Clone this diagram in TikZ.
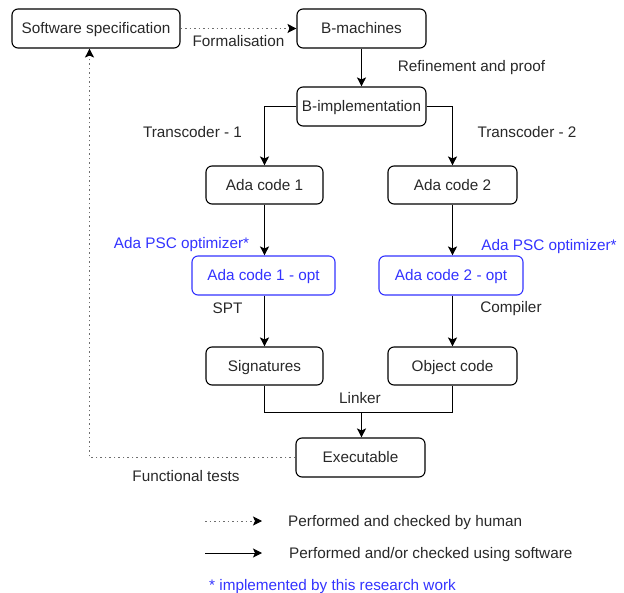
\documentclass[tikz,border=0pt]{standalone}
\usepackage{fontspec}
\setmainfont{Liberation Sans}
\usetikzlibrary{arrows.meta}
\definecolor{lblue}{RGB}{51,51,255}
\definecolor{tgray}{RGB}{40,40,40}
\definecolor{dgray}{RGB}{110,110,110}
\tikzset{
  box/.style={draw=black, line width=1.1pt, rounded corners=6pt, inner sep=0pt, text=tgray, text height=11pt, text depth=0pt},
  bluebox/.style={box, draw=lblue, text=lblue},
  lbl/.style={inner sep=0pt, text=tgray, text height=11pt, text depth=0pt},
  bluelbl/.style={lbl, text=lblue},
  solidarr/.style={line width=1pt, -{Stealth[length=9pt,width=9pt,inset=2pt]}},
  dotarr/.style={draw=dgray, line width=0.9pt, dash pattern=on 1.5pt off 3pt, -{Stealth[length=9pt,width=9pt,inset=2pt,color=black]}},
  plainline/.style={line width=1pt},
}
\begin{document}
\begin{tikzpicture}[x=1pt,y=-1pt, font=\fontsize{15.3}{18}\selectfont]
\useasboundingbox (0,0) rectangle (624,593);
% boxes
\node[box, minimum width=168pt, minimum height=39pt] (spec) at (96,28.5) {Software specification};
\node[box, minimum width=129pt, minimum height=39pt] (bm) at (361.5,28.5) {B-machines};
\node[box, minimum width=129pt, minimum height=39pt] (bi) at (361.5,106.5) {B-implementation};
\node[box, minimum width=117pt, minimum height=38pt] (ada1) at (264.5,185) {Ada code 1};
\node[box, minimum width=129pt, minimum height=38pt] (ada2) at (452.5,185) {Ada code 2};
\node[bluebox, minimum width=143pt, minimum height=39pt] (opt1) at (263.5,275.5) {Ada code 1 - opt};
\node[bluebox, minimum width=144pt, minimum height=39pt] (opt2) at (451,275.5) {Ada code 2 - opt};
\node[box, minimum width=117pt, minimum height=38pt] (sig) at (264.5,366) {Signatures};
\node[box, minimum width=129pt, minimum height=38pt] (obj) at (452.5,366) {Object code};
\node[box, minimum width=129pt, minimum height=39pt] (exe) at (360.5,457.5) {Executable};
% helper coordinates
\coordinate (l1) at (264.5,106.5);
\coordinate (r1) at (452.5,106.5);
\coordinate (lk1) at (264.5,412.5);
\coordinate (lk2) at (452.5,412.5);
\coordinate (lkm) at (361.5,412.5);
\coordinate (fb) at (89.5,457.5);
% connectors
\draw[dotarr] (spec.east) -- (bm.west);
\draw[solidarr] (bm.south) -- (bi.north);
\draw[solidarr] (bi.west) -- (l1) -- (ada1.north);
\draw[solidarr] (bi.east) -- (r1) -- (ada2.north);
\draw[solidarr] (ada1.south) -- (opt1.north -| ada1.south);
\draw[solidarr] (ada2.south) -- (opt2.north -| ada2.south);
\draw[solidarr] (opt1.south -| sig.north) -- (sig.north);
\draw[solidarr] (opt2.south -| obj.north) -- (obj.north);
\draw[plainline] (sig.south) -- (lk1) -- (lk2) -- (obj.south);
\draw[solidarr] (lkm) -- (exe.north -| lkm);
\draw[dotarr] (exe.west) -- (fb) -- (spec.south -| fb);
% labels
\node[lbl] (tf) at (238.5,41.5) {Formalisation};
\node[lbl] (trp) at (471.5,66.5) {Refinement and proof};
\node[lbl] (tt1) at (192.5,132) {Transcoder - 1};
\node[lbl] (tt2) at (527,132) {Transcoder - 2};
\node[bluelbl] (tpsc1) at (181.5,243) {Ada PSC optimizer*};
\node[bluelbl] (tpsc2) at (549,245) {Ada PSC optimizer*};
\node[lbl] (tspt) at (227.5,308) {SPT};
\node[lbl] (tcomp) at (511,307) {Compiler};
\node[lbl] (tlink) at (360,398) {Linker};
\node[lbl] (tfun) at (186,476) {Functional tests};
% legend
\coordinate (lg1a) at (205,521);
\coordinate (lg1b) at (262,521);
\coordinate (lg2a) at (205,553);
\coordinate (lg2b) at (262,553);
\draw[dotarr] (lg1a) -- (lg1b);
\draw[solidarr] (lg2a) -- (lg2b);
\node[lbl, anchor=west] (lt1) at (288,521) {Performed and checked by human};
\node[lbl, anchor=west] (lt2) at (289,553) {Performed and/or checked using software};
\node[bluelbl, anchor=west] (lt3) at (209,585) {* implemented by this research work};
\end{tikzpicture}
\end{document}
